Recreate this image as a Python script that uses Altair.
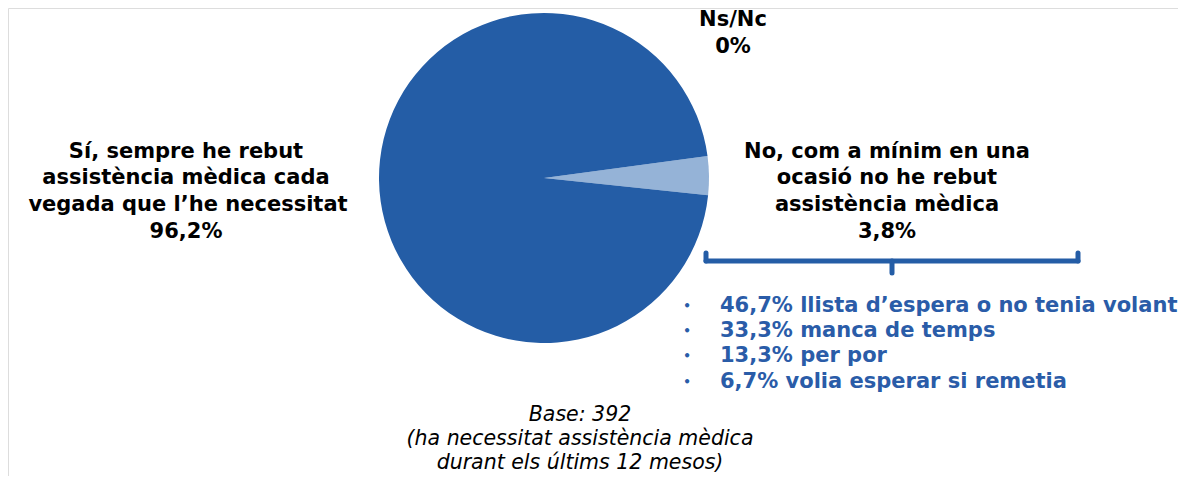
import altair as alt
import pandas as pd
import math

# Data
categories = ["No, com a mínim en una ocasió no he rebut assistència mèdica",
              "Sí, sempre he rebut assistència mèdica cada vegada que l'he necessitat",
              "Ns/Nc"]
values = [3.8, 96.2, 0.0]
order = [0, 1, 2]
colors = ["#95B3D7", "#245DA6", "#7F7F7F"]

reasons = ["46,7% llista d’espera o no tenia volant",
           "33,3% manca de temps",
           "13,3% per por",
           "6,7% volia esperar si remetia"]

OFF = 8  # page margin
def px(v):
    return v - OFF

pie_df = pd.DataFrame({"cat": categories, "val": values, "ord": order})
start = math.radians(82.3)

pie = alt.Chart(pie_df).mark_arc(radius=165, strokeWidth=0).encode(
    theta=alt.Theta("val:Q", stack=True, scale=alt.Scale(range=[start, start + 2 * math.pi])),
    color=alt.Color("cat:N", scale=alt.Scale(domain=categories, range=colors), legend=None),
    order=alt.Order("ord:Q"),
    x=alt.value(px(544)),
    y=alt.value(px(178)),
)

FONT = "DejaVu Sans"

# black bold labels
black_lines = [
    ("Ns/Nc", 733, 20), ("0%", 733, 47),
    ("Sí, sempre he rebut", 186, 152),
    ("assistència mèdica cada", 186, 178),
    ("vegada que l’he necessitat", 188, 205),
    ("96,2%", 186, 232),
    ("No, com a mínim en una", 887, 152),
    ("ocasió no he rebut", 887, 178),
    ("assistència mèdica", 887, 205),
    ("3,8%", 887, 232),
]
bl_df = pd.DataFrame({"t": [b[0] for b in black_lines],
                      "x": [px(b[1]) for b in black_lines],
                      "y": [px(b[2]) for b in black_lines]})
black_text = alt.Chart(bl_df).mark_text(font=FONT, fontSize=21, fontWeight="bold",
                                         color="#000000", baseline="middle", align="center").encode(
    x=alt.X("x:Q", scale=None), y=alt.Y("y:Q", scale=None), text="t:N")

# blue reasons
reason_y = [306, 331, 356, 382]
rs_df = pd.DataFrame({"t": reasons, "x": [px(720)] * 4, "y": [px(v) for v in reason_y]})
blue = "#2A5CA8"
reason_text = alt.Chart(rs_df).mark_text(font=FONT, fontSize=21, fontWeight="bold",
                                          color=blue, baseline="middle", align="left").encode(
    x=alt.X("x:Q", scale=None), y=alt.Y("y:Q", scale=None), text="t:N")
bl2_df = pd.DataFrame({"t": ["•"] * 4, "x": [px(687)] * 4, "y": [px(v) for v in reason_y]})
bullets = alt.Chart(bl2_df).mark_text(font=FONT, fontSize=12, fontWeight="bold",
                                      color=blue, baseline="middle", align="center").encode(
    x=alt.X("x:Q", scale=None), y=alt.Y("y:Q", scale=None), text="t:N")

# footnote
foot = ["Base: 392", "(ha necessitat assistència mèdica", "durant els últims 12 mesos)"]
ft_df = pd.DataFrame({"t": foot, "x": [px(580)] * 3, "y": [px(v) for v in [415, 439, 463]]})
foot_text = alt.Chart(ft_df).mark_text(font=FONT, fontSize=20.5, fontStyle="italic",
                                       color="#000000", baseline="middle", align="center").encode(
    x=alt.X("x:Q", scale=None), y=alt.Y("y:Q", scale=None), text="t:N")

# bracket
segs = pd.DataFrame({
    "x": [px(706), px(706), px(1078), px(892)],
    "x2": [px(1078), px(706), px(1078), px(892)],
    "y": [px(261), px(253), px(253), px(261)],
    "y2": [px(261), px(261), px(261), px(273)],
})
bracket = alt.Chart(segs).mark_rule(color="#245DA6", strokeWidth=5, strokeCap="round").encode(
    x=alt.X("x:Q", scale=None), x2="x2:Q", y=alt.Y("y:Q", scale=None), y2="y2:Q")

chart = alt.layer(pie, bracket, black_text, bullets, reason_text, foot_text).properties(
    width=1170, height=468, padding=0, autosize=alt.AutoSizeParams(type="none")
).configure_view(stroke="transparent", strokeWidth=0).configure(background="white")

chart.save("out.html", embed_options={"renderer": "svg", "actions": False})
